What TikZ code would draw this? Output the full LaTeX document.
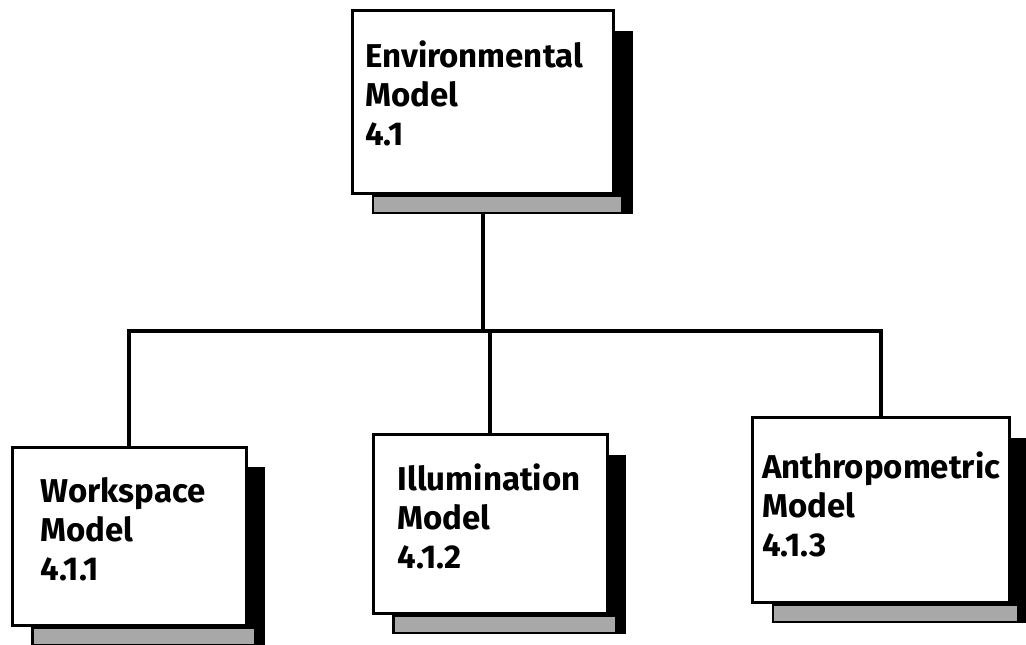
\documentclass[tikz,border=0pt]{standalone}
\usepackage{fontspec}
\setmainfont{Fira Sans}
\usetikzlibrary{positioning,shadows,calc,backgrounds}
\definecolor{shadowgray}{HTML}{A8A8A8}
\tikzset{
  modelbox/.style={rectangle,draw=black,line width=3pt,fill=white,
    drop shadow={shadow xshift=19pt,shadow yshift=-20pt,fill=black,opacity=1}},
  modeltext/.style={anchor=north west,align=left,inner sep=0pt,font=\fontsize{33}{39}\selectfont\bfseries},
  link/.style={line width=4pt,black}
}

\begin{document}
\begin{tikzpicture}[x=1pt,y=-1pt]
  \useasboundingbox (0,0) rectangle (1026,645);

  % boxes
  \node[modelbox,minimum width=261pt,minimum height=183pt] (env) at (483,102) {};
  \node[modelbox,minimum width=234pt,minimum height=178pt] (work) at (129,536) {};
  \node[modelbox,minimum width=234pt,minimum height=179pt] (illum) at (490,524) {};
  \node[modelbox,minimum width=257pt,minimum height=185pt] (anth) at (881,510) {};

  % dotted part of the shadows
  \foreach \b in {env,work,illum,anth}
    \fill[shadowgray] ($(\b.south west)+(23,2)$) rectangle ($(\b.south east)+(6,17)$);

  % labels
  \node[modeltext] (envlabel) at ($(env.north west)+(14,32)$) {Environmental\\Model\\4.1};
  \node[modeltext] (worklabel) at ($(work.north west)+(30,32)$) {Workspace\\Model\\4.1.1};
  \node[modeltext] (illumlabel) at ($(illum.north west)+(26,31)$) {Illumination\\Model\\4.1.2};
  \node[modeltext] (anthlabel) at ($(anth.north west)+(11,36)$) {Anthropometric\\Model\\4.1.3};

  % tree lines
  \coordinate (bus) at (483,331);
  \begin{scope}[on background layer]
    \draw[link] (env.south) -- (bus);
    \draw[link] (work.north) |- (bus) -| (anth.north);
    \draw[link] (illum.north) -- (illum.north |- bus);
  \end{scope}
\end{tikzpicture}
\end{document}
